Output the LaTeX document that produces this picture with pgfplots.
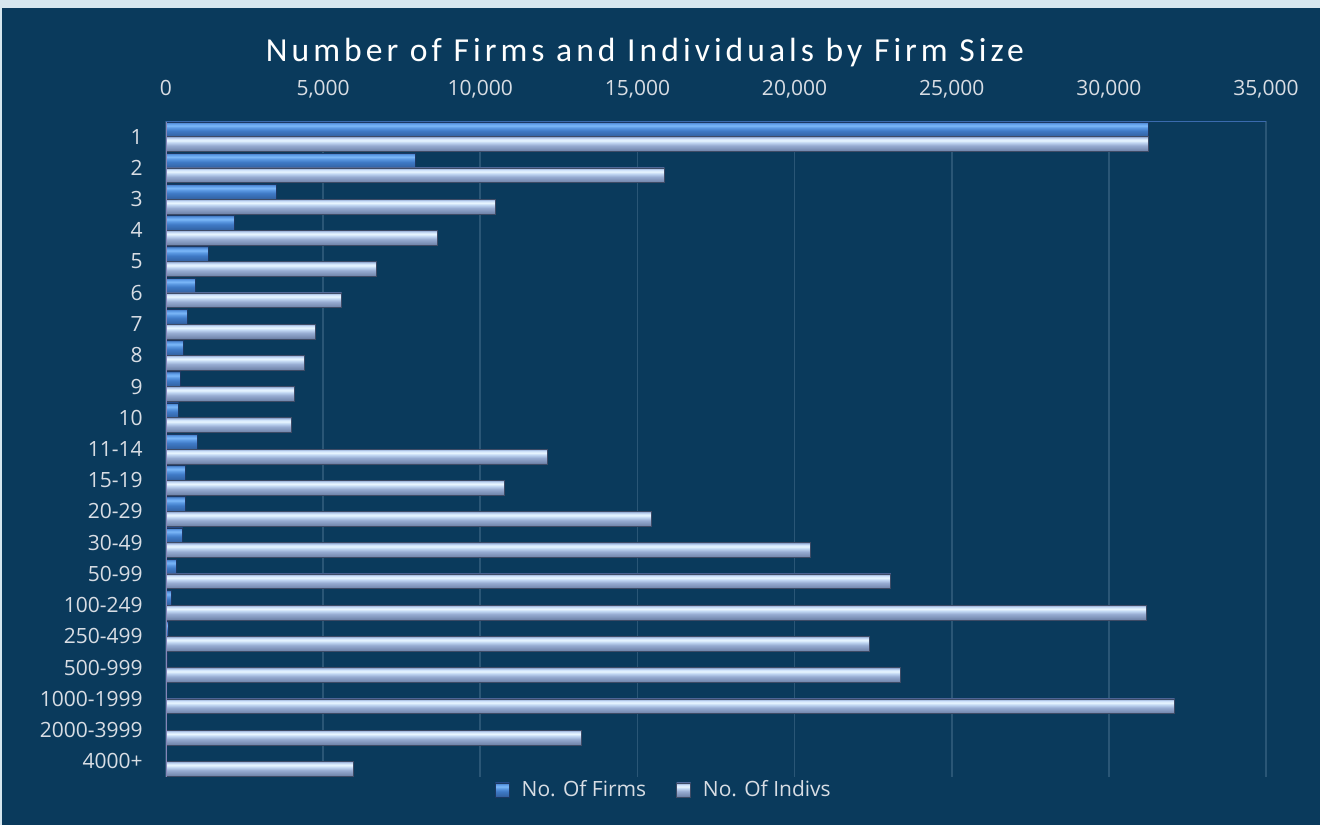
\documentclass[border=0pt]{standalone}
\usepackage{pgfplots}
\pgfplotsset{compat=1.18}
\usepackage{fontspec}
\setmainfont{Open Sans}
\newfontfamily\titlefont[LetterSpace=12]{Carlito}
\definecolor{bg}{HTML}{0A3A5C}
\definecolor{outer}{HTML}{D6E6EE}
\definecolor{gridc}{HTML}{2A5676}
\definecolor{lbl}{HTML}{D8DDE4}
\definecolor{i0}{HTML}{4E5E80}
\definecolor{i1}{HTML}{7387AD}
\definecolor{i2}{HTML}{97ACD2}
\definecolor{i3}{HTML}{C0D6F2}
\definecolor{i4}{HTML}{E8F6FF}
\definecolor{i5}{HTML}{CFE2FA}
\definecolor{i6}{HTML}{9FB6DC}
\definecolor{i7}{HTML}{7F96C0}
\definecolor{f0}{HTML}{23467A}
\definecolor{f1}{HTML}{3364A6}
\definecolor{f2}{HTML}{3F7AC6}
\definecolor{f3}{HTML}{5A98E2}
\definecolor{f4}{HTML}{7CB8F8}
\definecolor{f5}{HTML}{62A0EA}
\definecolor{f6}{HTML}{4A84CE}
\definecolor{f7}{HTML}{3A6AAE}
\pgfdeclareverticalshading{indivsh}{100bp}{color(0bp)=(i0); color(25bp)=(i0); color(28bp)=(i1); color(45bp)=(i2); color(55bp)=(i3); color(62bp)=(i4); color(68bp)=(i5); color(73bp)=(i6); color(75bp)=(i7); color(100bp)=(i7)}
\pgfdeclareverticalshading{firmsh}{100bp}{color(0bp)=(f0); color(25bp)=(f0); color(28bp)=(f1); color(45bp)=(f2); color(55bp)=(f3); color(62bp)=(f4); color(68bp)=(f5); color(73bp)=(f6); color(75bp)=(f7); color(100bp)=(f7)}
\pgfplotstableread{
idx firms indivs
0 31250 31250
1 7930 15860
2 3495 10485
3 2160 8640
4 1339 6695
5 931 5586
6 680 4760
7 552 4416
8 453 4077
9 400 4000
10 980 12140
11 627 10775
12 627 15452
13 531 20497
14 312 23060
15 178 31196
16 67 22368
17 35 23374
18 20 32094
19 5 13221
20 1 5974
}\datatable
\begin{document}
\begin{tikzpicture}[x=1pt,y=1pt]
\fill[outer] (0,0) rectangle (660,412.5);
\fill[bg] (1,0) rectangle (660,408.5);
\node[font=\titlefont\fontsize{16.8}{20}\selectfont, text=white] at (322.5,386) {Number of Firms and Individuals by Firm Size};
\begin{axis}[at={(83pt,24pt)}, anchor=south west, scale only axis,
  width=550pt, height=328pt,
  xbar=0pt, bar width=7.4pt,
  xmin=0, xmax=35000, ymin=-0.5, ymax=20.5, y dir=reverse,
  ytick={0,...,20},
  yticklabels={1,2,3,4,5,6,7,8,9,10,11-14,15-19,20-29,30-49,50-99,100-249,250-499,500-999,1000-1999,2000-3999,4000+},
  xtick={0,5000,...,35000},
  xticklabel pos=upper, xtick pos=upper,
  major tick length=0pt,
  scaled x ticks=false,
  /pgf/number format/.cd, 1000 sep={,}, assume math mode=true, /pgfplots/.cd,
  tick label style={font=\fontsize{10.5}{12}\selectfont, text=lbl},
  xticklabel style={anchor=base, inner sep=0pt, yshift=13pt},
  yticklabel style={anchor=east, inner sep=0pt, xshift=-11.5pt},
  axis line style={draw=none},
  xmajorgrids, grid style={draw=gridc, line width=0.8pt},
  legend style={at={(0.4535,0)}, anchor=north, yshift=2.5pt, draw=none, fill=none,
    text=lbl, font=\fontsize{10.5}{12}\selectfont, legend columns=2,
    /tikz/every even column/.append style={column sep=13pt}},
]
\pgfplotsinvokeforeach{0,...,20}{
\addplot[forget plot, draw=f0!80!black, line width=0.3pt, shading=firmsh, bar shift=3.7pt,
  y filter/.expression={abs(y-#1)<0.1 ? y : nan}] table[x=firms, y=idx] {\datatable};
\addplot[forget plot, draw=i0!80!black, line width=0.3pt, shading=indivsh, bar shift=-3.7pt,
  y filter/.expression={abs(y-#1)<0.1 ? y : nan}] table[x=indivs, y=idx] {\datatable};
}
\addlegendimage{legend image code/.code={\draw[draw=f0!80!black, line width=0.3pt, shading=firmsh] (0pt,-3.5pt) rectangle (7pt,3.5pt); \path (11pt,0pt);}}
\addlegendentry{No. Of Firms}
\addlegendimage{legend image code/.code={\draw[draw=i0!80!black, line width=0.3pt, shading=indivsh] (0pt,-3.5pt) rectangle (7pt,3.5pt); \path (11pt,0pt);}}
\addlegendentry{No. Of Indivs}
\draw[black!35!white!80!blue, line width=1.2pt] (rel axis cs:0,0) -- (rel axis cs:0,1);
\draw[f7, line width=1pt] (rel axis cs:0,1) -- (rel axis cs:1,1);
\end{axis}
\end{tikzpicture}
\end{document}
